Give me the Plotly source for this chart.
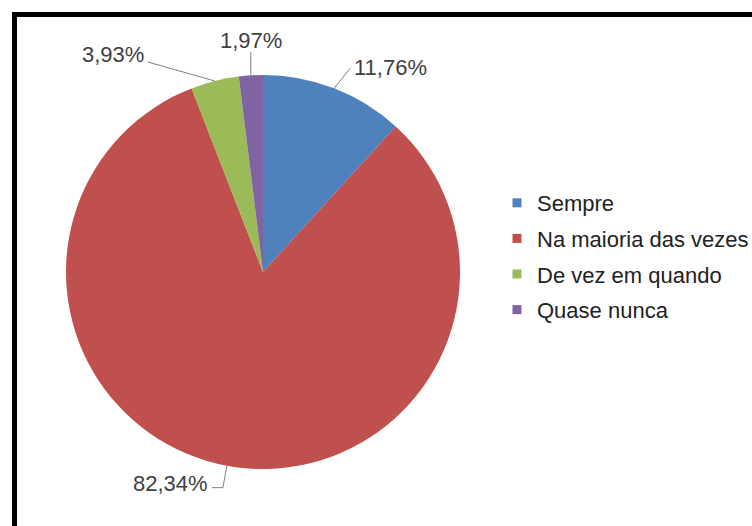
import math
import plotly.graph_objects as go

# Survey answer categories and their shares (%)
categories = ["Sempre", "Na maioria das vezes", "De vez em quando", "Quase nunca"]
shares = [11.76, 82.34, 3.93, 1.97]
colors = ["#4F81BD", "#C0504D", "#9BBB59", "#8064A2"]

W, H = 752, 526
CX, CY, R = 263, 272, 197          # pie centre and radius in pixels
FONT = "Liberation Sans, Arial, sans-serif"
TEXT_COLOR = "#404040"

# leader-line end offsets (px) from the slice edge, and label anchoring
label_style = [
    dict(dx=16, dy=-20, xanchor="left", tx=2, ty=-1),
    dict(dx=-4, dy=22, xanchor="right", tx=-2, ty=-4, elbow=-11),
    dict(dx=-67, dy=-19, xanchor="right", tx=-2, ty=-7),
    dict(dx=0, dy=-23, xanchor="center", tx=0, ty=-12),
]


def px(x, y):
    return x / W, 1 - y / H


def fmt(v):
    return f"{v:.2f}".replace(".", ",") + "%"


fig = go.Figure()
fig.add_trace(go.Pie(
    labels=categories,
    values=shares,
    sort=False,
    direction="clockwise",
    rotation=0,
    marker=dict(colors=colors, line=dict(width=0)),
    textinfo="none",
    hoverinfo="label+percent",
    showlegend=False,
    domain=dict(x=[(CX - R) / W, (CX + R) / W], y=[(H - CY - R) / H, (H - CY + R) / H]),
))

# legend entries (one group each so the row spacing can be widened)
for cat, col in zip(categories, colors):
    fig.add_trace(go.Scatter(
        x=[None], y=[None], mode="markers", name=cat, legendgroup=cat,
        marker=dict(symbol="square", size=9, color=col),
    ))

shapes = []
annotations = []
total = sum(shares)
start = 0.0
for v, st in zip(shares, label_style):
    mid = (start + v / 2) / total * 2 * math.pi
    start += v
    ex = CX + R * math.sin(mid)
    ey = CY - R * math.cos(mid)
    lx, ly = ex + st["dx"], ey + st["dy"]
    x0, y0 = px(ex, ey)
    x1, y1 = px(lx, ly)
    shapes.append(dict(type="line", xref="paper", yref="paper", x0=x0, y0=y0, x1=x1, y1=y1,
                       line=dict(color="#7F7F7F", width=1)))
    if "elbow" in st:
        x2, _ = px(lx + st["elbow"], ly)
        shapes.append(dict(type="line", xref="paper", yref="paper", x0=x1, y0=y1, x1=x2, y1=y1,
                           line=dict(color="#7F7F7F", width=1)))
        lx += st["elbow"]
    ax, ay = px(lx + st["tx"], ly + st["ty"])
    annotations.append(dict(x=ax, y=ay, xref="paper", yref="paper", text=fmt(v), showarrow=False,
                            xanchor=st["xanchor"], yanchor="middle",
                            font=dict(size=22, color=TEXT_COLOR, family=FONT)))

# frame around the chart area (only top and left edges fall inside the page)
shapes.append(dict(type="rect", xref="paper", yref="paper",
                   x0=14.5 / W, x1=1.2, y0=-0.2, y1=1 - 14.5 / H,
                   line=dict(color="black", width=5)))

fig.update_layout(
    width=W, height=H,
    margin=dict(l=0, r=0, t=0, b=0, autoexpand=False),
    paper_bgcolor="white",
    plot_bgcolor="white",
    xaxis=dict(visible=False),
    yaxis=dict(visible=False),
    shapes=shapes,
    annotations=annotations,
    showlegend=True,
    legend=dict(x=497 / W, y=1 - 182 / H, xanchor="left", yanchor="top",
                font=dict(size=22, color="#222222", family=FONT),
                itemwidth=30, tracegroupgap=4, bgcolor="rgba(0,0,0,0)"),
)

fig.write_html("out.html")
